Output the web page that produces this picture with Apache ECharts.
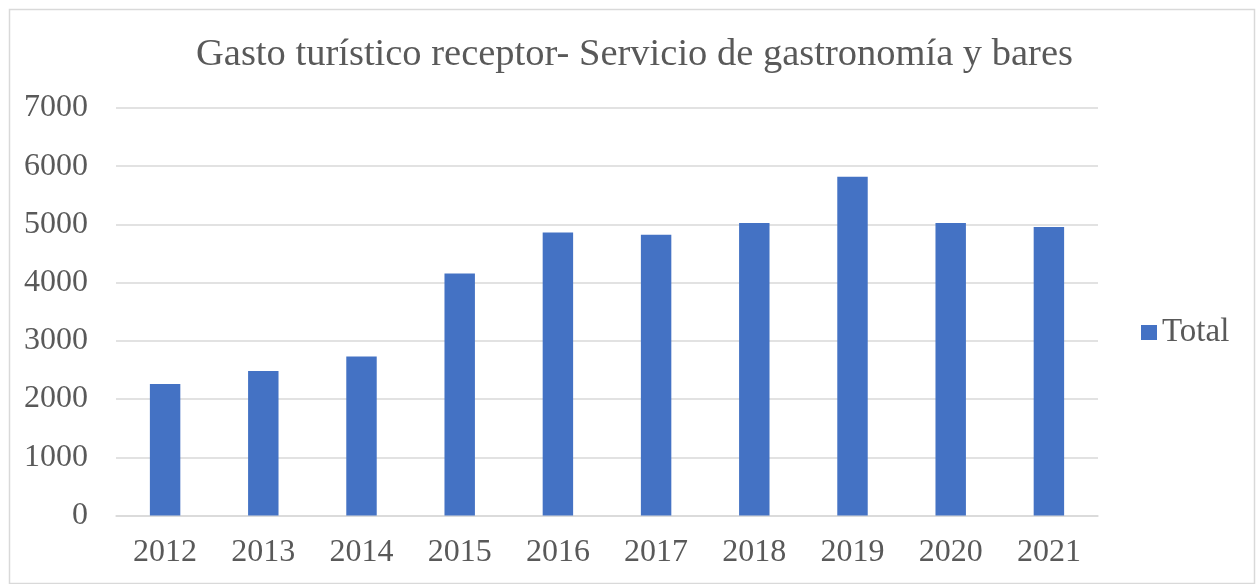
<!DOCTYPE html>
<html><head><meta charset="utf-8">
<script src="https://cdn.jsdelivr.net/npm/echarts@6/dist/echarts.min.js"></script>
<style>html,body{margin:0;padding:0;background:#fff}#c{width:1259px;height:584px}</style>
</head><body><div id="c"></div>
<script>
const categories = ['2012','2013','2014','2015','2016','2017','2018','2019','2020','2021'];
const totalValues = [2261, 2484, 2730, 4157, 4862, 4822, 5023, 5819, 5023, 4954];
const yTicks = [0, 1000, 2000, 3000, 4000, 5000, 6000, 7000];
const seriesName = 'Total';
const titleText = 'Gasto turístico receptor- Servicio de gastronomía y bares';

const chart = echarts.init(document.getElementById('c'));
const font = '"Liberation Serif", "Times New Roman", serif';
chart.setOption({
  animation: false,
  backgroundColor: '#fff',
  graphic: [{
    type: 'rect', left: 7, top: 7, silent: true,
    shape: {width: 1245, height: 574},
    style: {fill: 'none', stroke: '#d9d9d9', lineWidth: 1.5}
  }],
  title: {
    text: titleText, left: 191, top: 30,
    textStyle: {fontFamily: font, fontSize: 38.5, fontWeight: 'normal', color: '#595959'}
  },
  legend: {
    data: [seriesName], orient: 'vertical', left: 1141, top: 316, padding: 0,
    itemWidth: 16, itemHeight: 15, itemGap: 8,
    textStyle: {fontFamily: font, fontSize: 33, color: '#595959'},
    icon: 'rect'
  },
  grid: {left: 116, right: 161, top: 108, bottom: 68.5, containLabel: false},
  xAxis: {
    type: 'category', data: categories,
    axisLine: {show: true, lineStyle: {color: '#d9d9d9', width: 1.5}},
    axisTick: {show: false},
    axisLabel: {fontFamily: font, fontSize: 32, color: '#595959', margin: 21}
  },
  yAxis: {
    type: 'value', min: yTicks[0], max: yTicks[yTicks.length-1], interval: 1000,
    axisLine: {show: false}, axisTick: {show: false},
    splitLine: {lineStyle: {color: '#d9d9d9', width: 1.5}},
    axisLabel: {fontFamily: font, fontSize: 32, color: '#595959', margin: 28,
      formatter: v => String(v)}
  },
  series: [{
    name: seriesName, type: 'bar', data: totalValues, barWidth: '31%',
    itemStyle: {color: '#4472c4'}
  }]
});
</script></body></html>
